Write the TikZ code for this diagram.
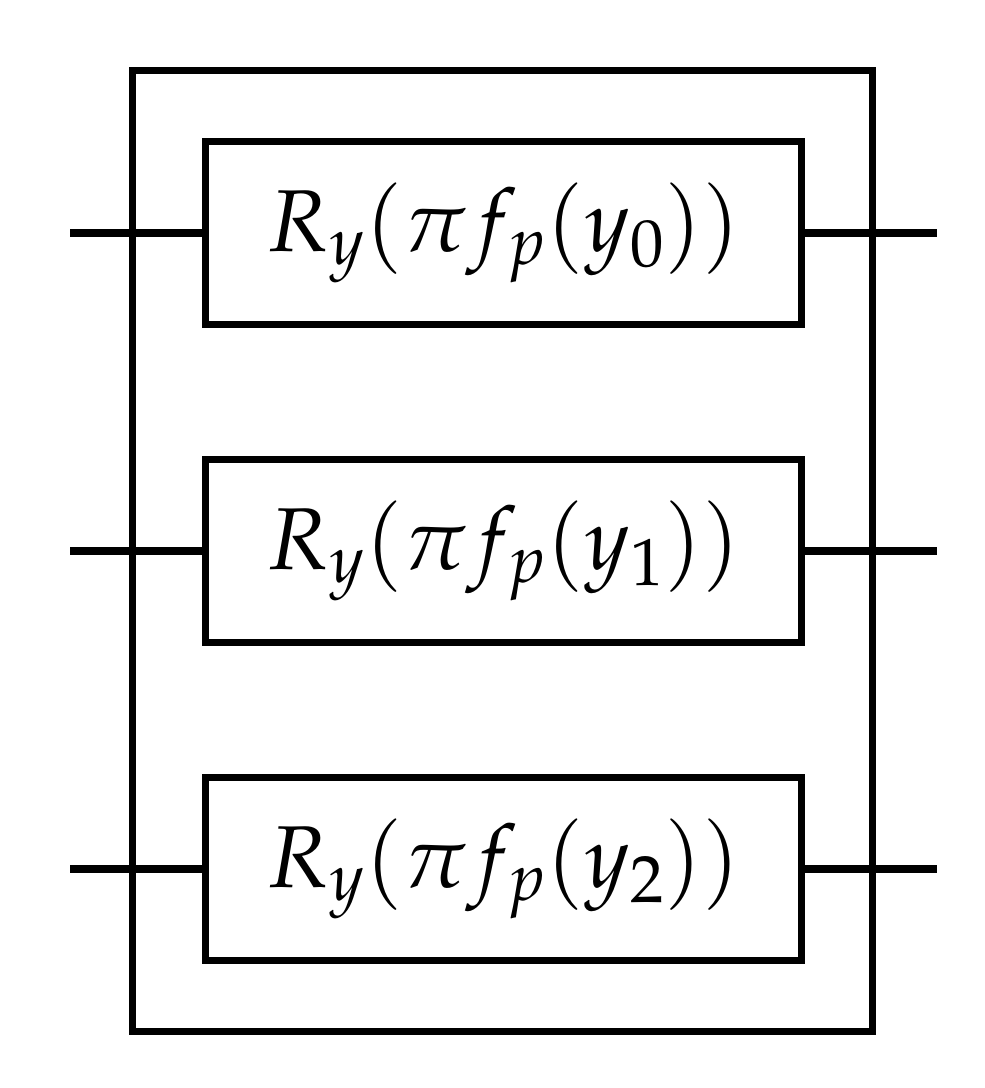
\documentclass[tikz,border=0pt]{standalone}
\usepackage{mathpazo}
\begin{document}
\begin{tikzpicture}[x=0.02cm,y=-0.02cm,line width=4pt,
  gate/.style={draw,minimum width=11.94cm,minimum height=3.66cm,inner sep=0pt,font=\fontsize{50}{60}\selectfont},
  wire/.style={}]
\useasboundingbox (0,0) rectangle (984,1088);
\node[draw,minimum width=14.82cm,minimum height=19.24cm] (outer) at (502.5,551) {};
\node[gate] (g0) at (503.5,233) {$R_y(\pi f_p(y_0))$};
\node[gate] (g1) at (503.5,551) {$R_y(\pi f_p(y_1))$};
\node[gate] (g2) at (503.5,869) {$R_y(\pi f_p(y_2))$};
\foreach \i/\yy in {0/233,1/551,2/869}{
  \coordinate (l\i) at (70,\yy);
  \coordinate (r\i) at (937,\yy);
  \draw (l\i) -- (g\i.west);
  \draw (g\i.east) -- (r\i);
}
\end{tikzpicture}
\end{document}
